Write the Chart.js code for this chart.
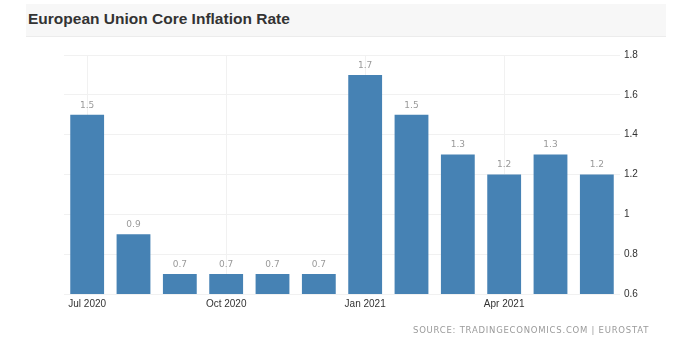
<!DOCTYPE html>
<html>
<head>
<meta charset="utf-8">
<script src="https://cdn.jsdelivr.net/npm/chart.js@4"></script>
<style>
  html, body { margin: 0; padding: 0; background: #ffffff; }
  #wrap { position: relative; width: 684px; height: 340px; overflow: hidden; }
  #band { position: absolute; left: 26px; top: 4px; width: 640px; height: 32px; background: #f7f7f7; border-bottom: 1px solid #ececec; }
  #title { position: absolute; left: 28px; top: 10px; font: bold 15.5px "Liberation Sans", Arial, sans-serif; color: #333333; }
  #source { position: absolute; left: 413px; top: 325px; font: 8.5px "DejaVu Sans", sans-serif; color: #9a9a9a; letter-spacing: 0.75px; }
  canvas { position: absolute; left: 0; top: 0; }
</style>
</head>
<body>
<div id="wrap">
  <div id="band"></div>
  <div id="title">European Union Core Inflation Rate</div>
  <canvas id="c" width="684" height="340"></canvas>
  <div id="source">SOURCE: TRADINGECONOMICS.COM | EUROSTAT</div>
</div>
<script>
const months = ["Jul 2020","Aug 2020","Sep 2020","Oct 2020","Nov 2020","Dec 2020","Jan 2021","Feb 2021","Mar 2021","Apr 2021","May 2021","Jun 2021"];
const coreInflation = [1.5, 0.9, 0.7, 0.7, 0.7, 0.7, 1.7, 1.5, 1.3, 1.2, 1.3, 1.2];
const shownTickLabels = ["Jul 2020","Oct 2020","Jan 2021","Apr 2021"];
const yMin = 0.6, yMax = 1.8, yStep = 0.2;

const valueLabels = {
  id: 'valueLabels',
  afterDatasetsDraw(chart) {
    const ctx = chart.ctx;
    const meta = chart.getDatasetMeta(0);
    ctx.save();
    ctx.font = '9px "DejaVu Sans", sans-serif';
    ctx.fillStyle = '#9a9a9a';
    ctx.textAlign = 'center';
    ctx.textBaseline = 'bottom';
    meta.data.forEach((bar, i) => {
      ctx.fillText(String(coreInflation[i]), bar.x, bar.y - 5);
    });
    ctx.restore();
  }
};

new Chart(document.getElementById('c'), {
  type: 'bar',
  data: {
    labels: months,
    datasets: [{
      data: coreInflation,
      backgroundColor: '#4682b4',
      borderWidth: 0,
      barPercentage: 0.73,
      categoryPercentage: 1.0
    }]
  },
  options: {
    responsive: false,
    animation: false,
    devicePixelRatio: 1,
    layout: { padding: { left: 64, top: 55, right: 24, bottom: 26 } },
    plugins: { legend: { display: false }, tooltip: { enabled: false } },
    scales: {
      x: {
        grid: {
          offset: false,
          drawTicks: false,
          color: (c) => (c.index % 3 === 0 ? '#f1f1f1' : 'rgba(0,0,0,0)')
        },
        border: { display: false },
        ticks: {
          autoSkip: false,
          maxRotation: 0,
          padding: 4,
          color: '#333333',
          font: { family: '"Liberation Sans", Arial, sans-serif', size: 10 },
          callback: function(v, i) {
            const l = months[i];
            return shownTickLabels.includes(l) ? l : '';
          }
        },
        afterFit: (s) => { s.height = 20; }
      },
      y: {
        position: 'right',
        min: yMin,
        max: yMax,
        grid: { color: '#f1f1f1', drawTicks: false },
        border: { display: false },
        ticks: {
          stepSize: yStep,
          padding: 4,
          color: '#333333',
          font: { family: '"Liberation Sans", Arial, sans-serif', size: 10 },
          callback: (v) => String(+v.toFixed(1))
        },
        afterFit: (s) => { s.width = 40; }
      }
    }
  },
  plugins: [valueLabels]
});
</script>
</body>
</html>
